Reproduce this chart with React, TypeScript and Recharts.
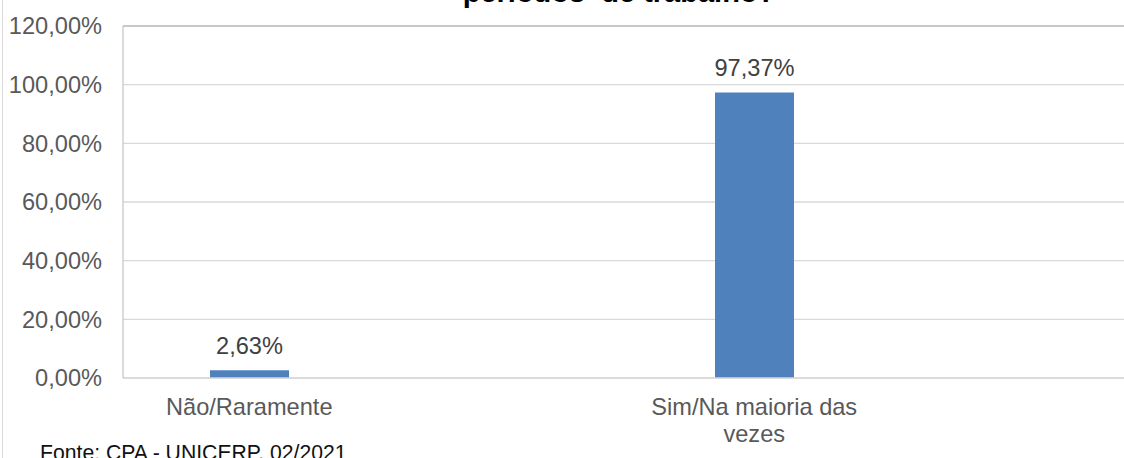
import React from 'react';
import { BarChart, Bar, XAxis, YAxis, CartesianGrid, LabelList, ReferenceLine } from 'recharts';

// two answer groups; the blank slots keep Excel's spacing of the original chart
const categories = ['Não/Raramente', '', 'Sim/Na maioria das vezes', '']
const percentages = [2.63, null, 97.37, null]
const yTicks = [0, 20, 40, 60, 80, 100, 120]

const titleText = 'períodos  de trabalho?'
const sourceText = 'Fonte: CPA - UNICERP. 02/2021'

const data = categories.map((name, i) => ({ id: i, name, value: percentages[i] }))

const FONT = '"Liberation Sans", Arial, sans-serif'
const TICK_SIZE = 23.6
const fmt = (v: any) => (v === null || v === undefined ? '' : Number(v).toFixed(2).replace('.', ',') + '%')

let ctx: CanvasRenderingContext2D | null = null
const wrapWords = (label: string, maxWidth: number) => {
    if (!ctx) ctx = document.createElement('canvas').getContext('2d')
    if (!ctx) return [label]
    ctx.font = `${TICK_SIZE}px ${FONT}`
    const lines: string[] = []
    let line = ''
    label.split(' ').forEach((w) => {
        const next = line ? line + ' ' + w : w
        if (line && ctx!.measureText(next).width > maxWidth) {
            lines.push(line)
            line = w
        } else {
            line = next
        }
    })
    if (line) lines.push(line)
    return lines
}

const CategoryTick = (props: any) => {
    const { x, y, payload } = props
    const label = categories[payload.value]
    if (!label) return null
    const lines = wrapWords(label, 240)
    return (
        <text x={x} y={y} textAnchor="middle" fill="#595959" style={{ fontSize: TICK_SIZE, fontFamily: FONT }}>
            {lines.map((l, i) => (
                <tspan key={i} x={x} dy={i === 0 ? '0.71em' : 27}>{l}</tspan>
            ))}
        </text>
    )
}

const App = () => {
    return (
        <div style={{ position: 'absolute', left: 0, top: 0, width: 1124, height: 458, overflow: 'hidden', background: '#fff' }}>
            <div style={{ position: 'absolute', left: 2, top: 0, height: 458, borderLeft: '1.5px solid #d9d9d9' }} />
            <div
                style={{
                    position: 'absolute', left: 319, top: -22.5, width: 600, textAlign: 'center',
                    fontFamily: FONT, fontWeight: 'bold', fontSize: 29, lineHeight: '29px', color: '#000',
                    whiteSpace: 'pre',
                }}
            >
                {titleText}
            </div>
            <BarChart
                width={1140}
                height={458}
                data={data}
                margin={{ top: 26, right: 7, bottom: 0, left: 0 }}
            >
                <CartesianGrid vertical={false} stroke="#d9d9d9" strokeWidth={1.3} />
                <XAxis
                    dataKey="id"
                    interval={0}
                    height={80}
                    tickLine={false}
                    tickSize={0}
                    tickMargin={20}
                    axisLine={{ stroke: '#d9d9d9', strokeWidth: 1.5 }}
                    tick={<CategoryTick />}
                />
                <YAxis
                    domain={[0, 120]}
                    ticks={yTicks}
                    width={123}
                    tickLine={false}
                    tickSize={0}
                    tickMargin={21}
                    axisLine={{ stroke: '#c8c8c8', strokeWidth: 1.3 }}
                    tickFormatter={fmt}
                    tick={{ fill: '#595959', fontSize: TICK_SIZE, fontFamily: FONT }}
                />
                <ReferenceLine y={120} stroke="#bfbfbf" strokeWidth={1.5} />
                <Bar dataKey="value" fill="#4f81bd" barSize={79} isAnimationActive={false}>
                    <LabelList
                        dataKey="value"
                        position="top"
                        offset={16}
                        formatter={fmt}
                        fill="#404040"
                        style={{ fontSize: TICK_SIZE, fontFamily: FONT }}
                    />
                </Bar>
            </BarChart>
            <div
                style={{
                    position: 'absolute', left: 40, top: 442, whiteSpace: 'nowrap',
                    fontFamily: FONT, fontSize: 21.2, lineHeight: '21.2px', color: '#111',
                }}
            >
                {sourceText}
            </div>
        </div>
    )
}

export default App
